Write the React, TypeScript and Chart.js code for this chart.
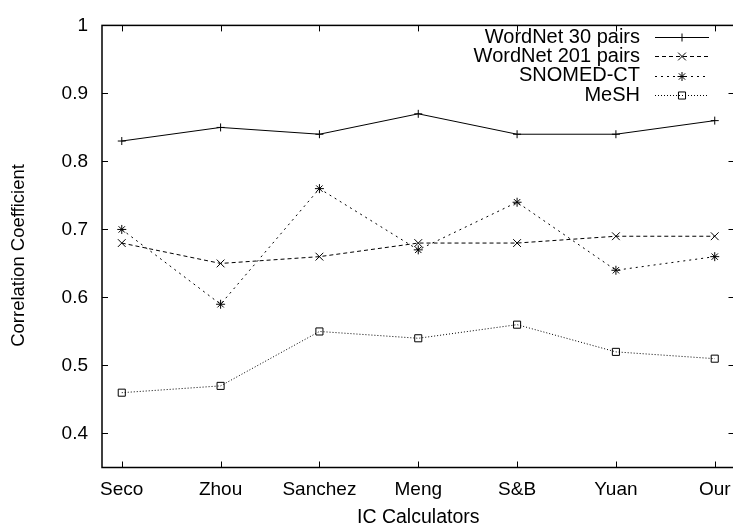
import React, { useEffect, useRef } from "react";
import { Chart, registerables } from "chart.js";
import { drawPoint } from "chart.js/helpers";

Chart.register(...registerables);

const categories = ["Seco", "Zhou", "Sanchez", "Meng", "S&B", "Yuan", "Our"];
const wordnet30 = [0.83, 0.85, 0.84, 0.87, 0.84, 0.84, 0.86];
const wordnet201 = [0.68, 0.65, 0.66, 0.68, 0.68, 0.69, 0.69];
const snomed = [0.70, 0.59, 0.76, 0.67, 0.74, 0.64, 0.66];
const mesh = [0.46, 0.47, 0.55, 0.54, 0.56, 0.52, 0.51];
const seriesNames = ["WordNet 30 pairs", "WordNet 201 pairs", "SNOMED-CT", "MeSH"];
const yTickValues = [0.4, 0.5, 0.6, 0.7, 0.8, 0.9, 1.0];
const yTickLabels = ["0.4", "0.5", "0.6", "0.7", "0.8", "0.9", "1"];
const yTitle = "Correlation Coefficient";
const xTitle = "IC Calculators";

const FONT = "'Liberation Sans', Arial, Helvetica, sans-serif";

const toPoints = (arr: number[]) => arr.map((v, i) => ({ x: i, y: v }));

const framePlugin = {
  id: "gnuplotFrame",
  afterDraw(chart: any) {
    const { ctx, chartArea } = chart;
    const { left, right, top, bottom } = chartArea;
    const xs = chart.scales.x;
    const ys = chart.scales.y;
    ctx.save();
    ctx.strokeStyle = "#000";
    ctx.lineWidth = 1;
    const tl = 6;
    ctx.beginPath();
    xs.ticks.forEach((t: any) => {
      const px = Math.round(xs.getPixelForValue(t.value)) + 0.5;
      ctx.moveTo(px, bottom);
      ctx.lineTo(px, bottom - tl);
      ctx.moveTo(px, top);
      ctx.lineTo(px, top + tl);
    });
    ys.ticks.forEach((t: any) => {
      const py = Math.round(ys.getPixelForValue(t.value)) + 0.5;
      ctx.moveTo(left, py);
      ctx.lineTo(left + tl, py);
      ctx.moveTo(right, py);
      ctx.lineTo(right - tl, py);
    });
    ctx.stroke();
    ctx.lineWidth = 1.5;
    ctx.strokeRect(left, top, right - left, bottom - top);

    // y axis title (sits slightly below the plot centre, as in the reference)
    ctx.save();
    ctx.fillStyle = "#000";
    ctx.font = `18.5px ${FONT}`;
    ctx.textAlign = "center";
    ctx.textBaseline = "middle";
    ctx.translate(19, (top + bottom) / 2 + 9);
    ctx.rotate(-Math.PI / 2);
    ctx.fillText(yTitle, 0, 0);
    ctx.restore();

    // legend
    const textRight = 640;
    const lineStart = 655;
    const lineEnd = 709;
    const markX = 682;
    ctx.font = `20px ${FONT}`;
    ctx.textAlign = "right";
    ctx.textBaseline = "middle";
    chart.data.datasets.forEach((ds: any, i: number) => {
      const y = 37 + 19.4 * i;
      ctx.fillStyle = "#000";
      ctx.fillText(ds.label, textRight, y);
      ctx.save();
      ctx.strokeStyle = ds.borderColor;
      ctx.lineWidth = ds.borderWidth;
      ctx.setLineDash(ds.borderDash || []);
      ctx.beginPath();
      ctx.moveTo(lineStart, Math.round(y) + 0.5);
      ctx.lineTo(lineEnd, Math.round(y) + 0.5);
      ctx.stroke();
      ctx.restore();
      ctx.save();
      ctx.strokeStyle = ds.pointBorderColor;
      ctx.fillStyle = "rgba(0,0,0,0)";
      ctx.lineWidth = 1;
      drawPoint(ctx, { pointStyle: ds.pointStyle, radius: ds.pointRadius, rotation: 0, borderWidth: 1 }, markX, Math.round(y) + 0.5);
      ctx.restore();
    });
    ctx.restore();
  },
};

export default function App() {
  const ref = useRef<HTMLCanvasElement | null>(null);
  useEffect(() => {
    if (!ref.current) return;
    const mk = (label: string, data: number[], dash: number[], style: string, r: number) => ({
      label,
      data: toPoints(data),
      borderColor: "#000",
      borderWidth: 1,
      borderDash: dash,
      pointStyle: style,
      pointRadius: r,
      pointBorderColor: "#000",
      pointBackgroundColor: "rgba(0,0,0,0)",
      pointBorderWidth: 1,
      fill: false,
      tension: 0,
    });
    const chart = new Chart(ref.current, {
      type: "line",
      data: {
        datasets: [
          mk(seriesNames[0], wordnet30, [], "cross", 4),
          mk(seriesNames[1], wordnet201, [4, 3], "crossRot", 5.5),
          mk(seriesNames[2], snomed, [2, 4], "star", 4.5),
          mk(seriesNames[3], mesh, [1, 2], "rect", 5),
        ] as any,
      },
      options: {
        animation: false,
        responsive: true,
        maintainAspectRatio: false,
        layout: { padding: { top: 19, right: 10.5, left: 0, bottom: 0 } },
        plugins: { legend: { display: false }, tooltip: { enabled: false } },
        scales: {
          x: {
            type: "linear",
            min: -0.2,
            max: 6.2,
            grid: { display: false, drawTicks: false },
            border: { display: false },
            afterBuildTicks: (s: any) => {
              s.ticks = categories.map((_, i) => ({ value: i }));
            },
            afterFit: (s: any) => {
              s.height = 59.5;
            },
            ticks: {
              color: "#000",
              font: { family: FONT, size: 19 },
              padding: 11,
              maxRotation: 0,
              autoSkip: false,
              callback: (v: any) => categories[Math.round(v)] ?? "",
            },
            title: {
              display: true,
              text: xTitle,
              color: "#000",
              font: { family: FONT, size: 19.5 },
              padding: { top: 0, bottom: -2 },
            },
          },
          y: {
            type: "linear",
            min: 0.35,
            max: 1,
            grid: { display: false, drawTicks: false },
            border: { display: false },
            afterBuildTicks: (s: any) => {
              s.ticks = yTickValues.map((v) => ({ value: v }));
            },
            afterFit: (s: any) => {
              s.width = 102;
            },
            ticks: {
              color: "#000",
              font: { family: FONT, size: 19 },
              padding: 14,
              autoSkip: false,
              callback: (_v: any, i: number) => yTickLabels[i],
            },
            title: { display: false },
          },
        },
      } as any,
      plugins: [framePlugin],
    });
    return () => chart.destroy();
  }, []);
  return (
    <div style={{ position: "fixed", left: 0, top: 0, width: 733, height: 527, overflow: "hidden", background: "#fff" }}>
      <div style={{ position: "absolute", left: 0, top: 0, width: 745, height: 527 }}>
        <canvas ref={ref} />
      </div>
    </div>
  );
}
